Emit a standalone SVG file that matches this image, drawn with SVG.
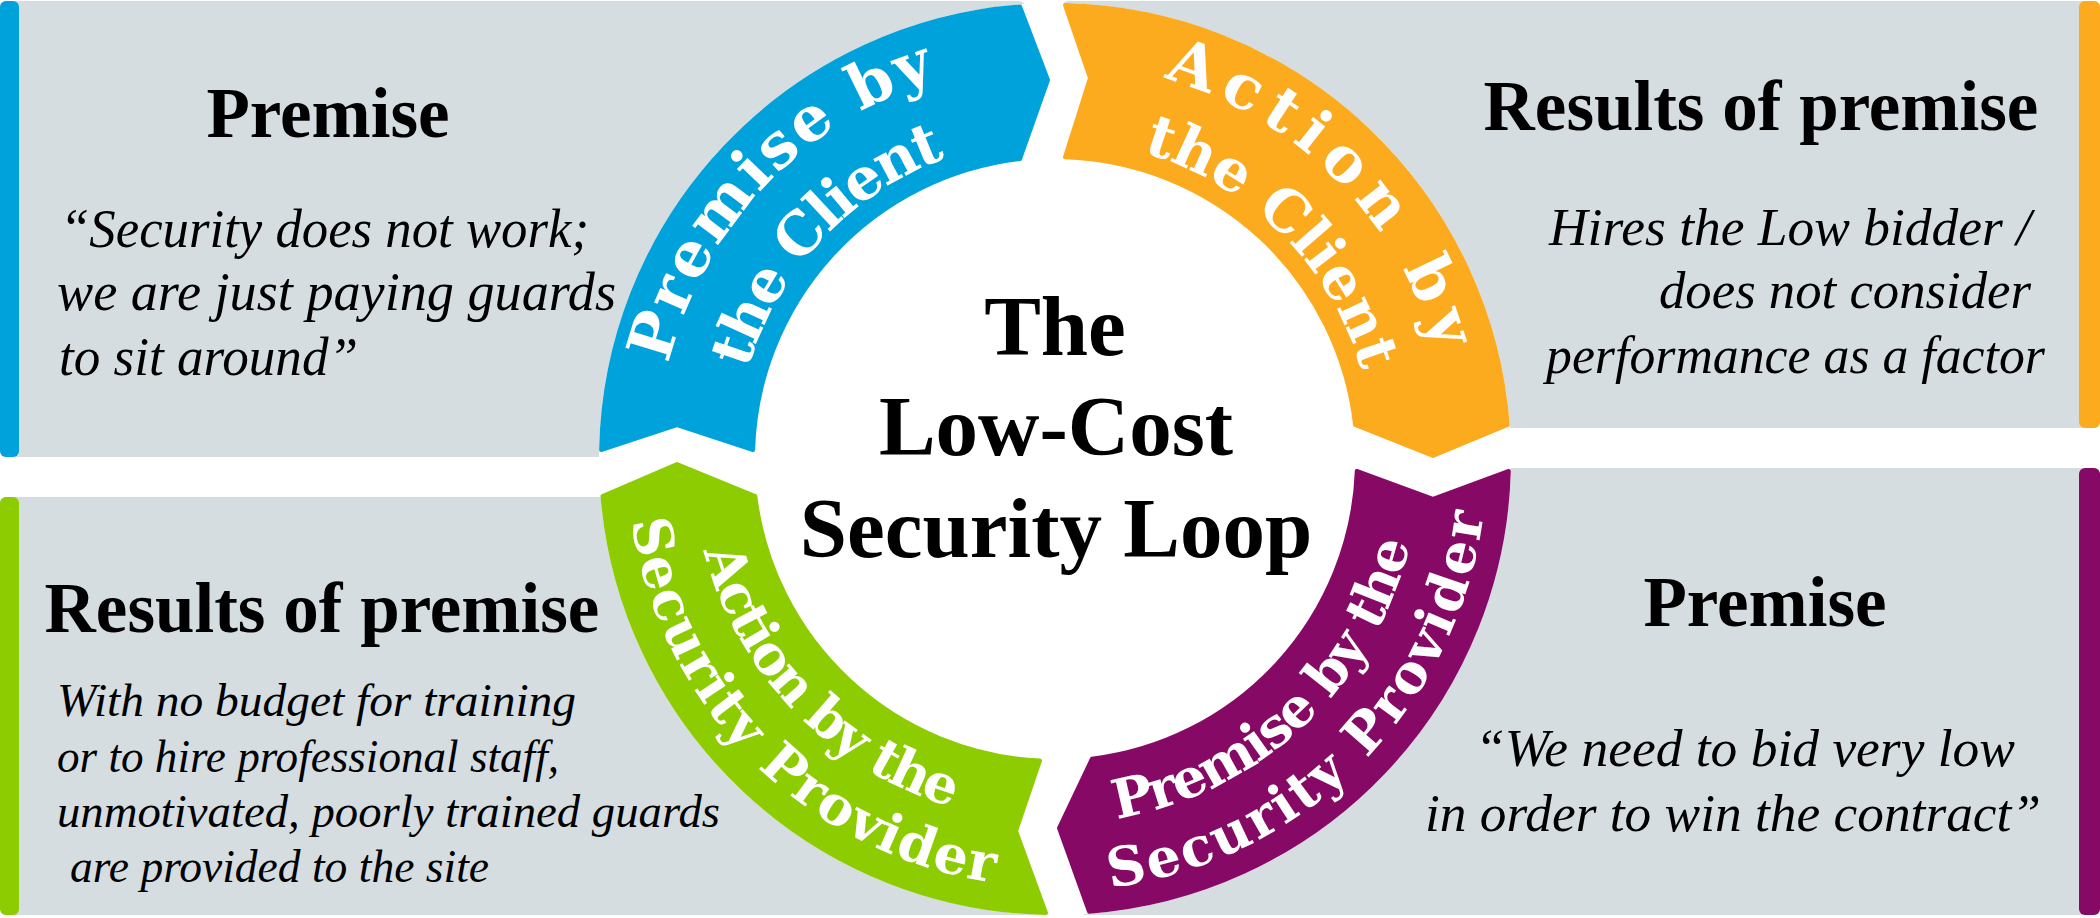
<svg xmlns="http://www.w3.org/2000/svg" width="2100" height="918" viewBox="0 0 2100 918">
<style>
.box{fill:#d6dde1}
.head{font-family:"Liberation Serif","Times New Roman",serif;font-weight:bold;font-size:71px;fill:#000;text-anchor:middle}
.body{font-family:"Liberation Serif","Times New Roman",serif;font-style:italic;fill:#000}
.title{font-family:"Liberation Serif","Times New Roman",serif;font-weight:bold;font-size:85px;fill:#000;text-anchor:middle}
.rib{font-family:"DejaVu Serif",serif;font-weight:bold;font-size:54px;fill:#fff;text-anchor:middle}
.big{font-size:62px}
.mid{font-size:58px}
.seg{stroke-width:4;stroke-linejoin:round}
.blue{fill:#00a2dc;stroke:#00a2dc}
.orange{fill:#fcaa1e;stroke:#fcaa1e}
.purple{fill:#860966;stroke:#860966}
.green{fill:#8ecc02;stroke:#8ecc02}
</style>
<defs>
<path id="pBlueOut" d="M 657 459 A 398 398 0 0 1 1055 61"/>
<path id="pBlueIn" d="M 735 459 A 320 320 0 0 1 1055 139"/>
<path id="pOrOut" d="M 1055 63 A 396 396 0 0 1 1451 459"/>
<path id="pOrIn" d="M 1055 140 A 319 319 0 0 1 1374 459"/>
<path id="pGrOut" d="M 627 459 A 428 428 0 0 0 1055 887"/>
<path id="pGrIn" d="M 692 459 A 363 363 0 0 0 1055 822"/>
<path id="pPuOut" d="M 1055 891 A 432 432 0 0 0 1487 459"/>
<path id="pPuIn" d="M 1055 824 A 365 365 0 0 0 1420 459"/>
</defs>
<rect x="0" y="0" width="2100" height="918" fill="#ffffff"/>

<g id="panel-premise-client">
<rect class="box" x="0" y="1" width="1025" height="456" rx="6"/>
<rect x="0" y="1" width="19" height="456" rx="6" fill="#00a2dc"/>
<text class="head" x="328" y="137">Premise</text>
<text class="body" font-size="54" x="60" y="247" textLength="529" lengthAdjust="spacingAndGlyphs">“Security does not work;</text>
<text class="body" font-size="54" x="57" y="310" textLength="559" lengthAdjust="spacingAndGlyphs">we are just paying guards</text>
<text class="body" font-size="54" x="59" y="375" textLength="299" lengthAdjust="spacingAndGlyphs">to sit around”</text>
</g>

<g id="panel-action-client">
<rect class="box" x="1062" y="1" width="1038" height="427" rx="6"/>
<rect x="2079" y="1" width="21" height="427" rx="6" fill="#fcaa1e"/>
<text class="head" x="1761" y="130">Results of premise</text>
<text class="body" font-size="53" x="1549" y="245" textLength="482" lengthAdjust="spacingAndGlyphs">Hires the Low bidder /</text>
<text class="body" font-size="53" x="1659" y="308" textLength="372" lengthAdjust="spacingAndGlyphs">does not consider</text>
<text class="body" font-size="53" x="1546" y="373" textLength="499" lengthAdjust="spacingAndGlyphs">performance as a factor</text>
</g>

<g id="panel-action-provider">
<rect class="box" x="0" y="497" width="1050" height="418" rx="6"/>
<rect x="0" y="497" width="19" height="418" rx="6" fill="#8ecc02"/>
<text class="head" x="322" y="632">Results of premise</text>
<text class="body" font-size="47" x="57" y="716" textLength="519" lengthAdjust="spacingAndGlyphs">With no budget for training</text>
<text class="body" font-size="47" x="57" y="772" textLength="502" lengthAdjust="spacingAndGlyphs">or to hire professional staff,</text>
<text class="body" font-size="47" x="57" y="827" textLength="663" lengthAdjust="spacingAndGlyphs">unmotivated, poorly trained guards</text>
<text class="body" font-size="47" x="70" y="882" textLength="419" lengthAdjust="spacingAndGlyphs">are provided to the site</text>
</g>

<g id="panel-premise-provider">
<rect class="box" x="1080" y="468" width="1020" height="447" rx="6"/>
<rect x="2079" y="468" width="21" height="447" rx="6" fill="#860966"/>
<text class="head" x="1765" y="626">Premise</text>
<text class="body" font-size="53" x="1475" y="766" textLength="540" lengthAdjust="spacingAndGlyphs">“We need to bid very low</text>
<text class="body" font-size="53" x="1425" y="831" textLength="616" lengthAdjust="spacingAndGlyphs">in order to win the contract”</text>
</g>

<circle cx="1055" cy="459" r="456" fill="#ffffff"/>

<g id="node-premise-by-client">
<path class="seg blue" d="M 601.1 450 L 677 425 L 753.1 450 A 302 302 0 0 1 1020 159 L 1048 80 L 1020 6.4 A 454 454 0 0 0 601.1 450 Z"/>
<text class="rib big"><textPath href="#pBlueOut" startOffset="48%" textLength="408" lengthAdjust="spacing">Premise by</textPath></text>
<text class="rib mid"><textPath href="#pBlueIn" startOffset="48%" textLength="300" lengthAdjust="spacing">the Client</textPath></text>
</g>

<g id="node-action-by-client">
<path class="seg orange" d="M 1065 5.1 L 1090 78 L 1065 157.2 A 302 302 0 0 1 1355.1 425 L 1433 456 L 1507.7 425 A 454 454 0 0 0 1065 5.1 Z"/>
<text class="rib big"><textPath href="#pOrOut" startOffset="50%" textLength="402" lengthAdjust="spacing">Action by</textPath></text>
<text class="rib mid"><textPath href="#pOrIn" startOffset="50%" textLength="323" lengthAdjust="spacing">the Client</textPath></text>
</g>

<g id="node-premise-by-provider">
<path class="seg purple" d="M 1508.8 471 L 1433 499 L 1356.8 471 A 302 302 0 0 1 1092 758.7 L 1059 828 L 1089 911.7 A 454 454 0 0 0 1508.8 471 Z"/>
<text class="rib" font-size="56"><textPath href="#pPuOut" startOffset="50%" textLength="568" lengthAdjust="spacing">Security Provider</textPath></text>
<text class="rib"><textPath href="#pPuIn" startOffset="48%" textLength="426" lengthAdjust="spacing">Premise by the</textPath></text>
</g>

<g id="node-action-by-provider">
<path class="seg green" d="M 1046 912.9 L 1016 831 L 1040 760.6 A 302 302 0 0 1 755.3 496 L 677 464 L 602.5 496 A 454 454 0 0 0 1046 912.9 Z"/>
<text class="rib" font-size="56"><textPath href="#pGrOut" startOffset="50%" textLength="548" lengthAdjust="spacing">Security Provider</textPath></text>
<text class="rib"><textPath href="#pGrIn" startOffset="49%" textLength="372" lengthAdjust="spacing">Action by the</textPath></text>
</g>

<g id="node-title">
<text class="title" x="1055" y="355">The</text>
<text class="title" x="1056" y="455">Low-Cost</text>
<text class="title" x="1056" y="557">Security Loop</text>
</g>
</svg>
